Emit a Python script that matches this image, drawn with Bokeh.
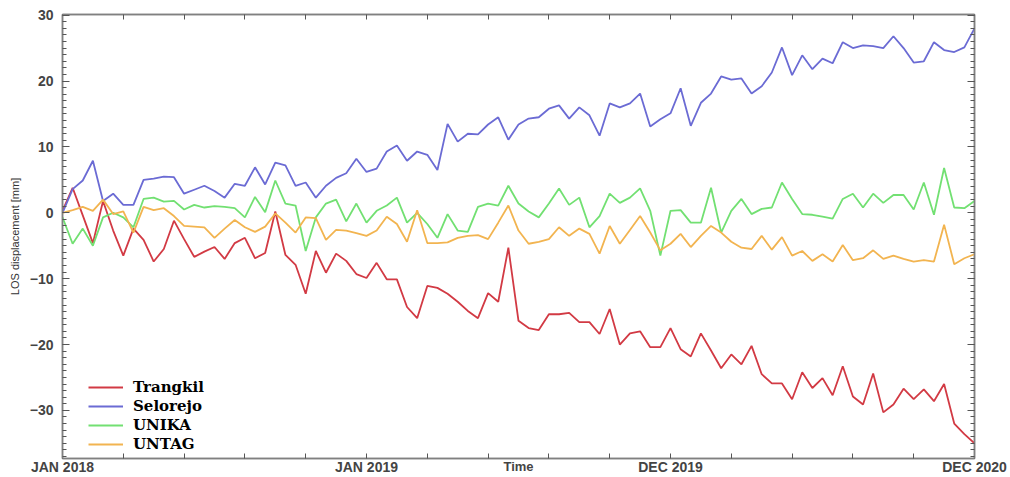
from bokeh.plotting import figure
from bokeh.models import (Range1d, FixedTicker, SingleIntervalTicker, LinearAxis,
                          Legend, LegendItem, CustomJSTickFormatter)
from bokeh.embed import file_html
from bokeh.resources import INLINE

# acquisition number (regular revisit), 91 acquisitions
acquisition = list(range(91))
tick_positions = list(range(0, 91, 6))
tick_labels = {0: "JAN 2018", 30: "JAN 2019", 60: "DEC 2019", 90: "DEC 2020"}

trangkil = [0.3, 3.8, -0.4, -4.6, 1.8, -2.7, -6.5, -2.4, -4.1, -7.4,
            -5.5, -1.2, -4.0, -6.7, -5.9, -5.2, -7.0, -4.6, -3.8, -6.9,
            -6.1, 0.2, -6.4, -7.9, -12.3, -5.8, -9.1, -6.2, -7.3, -9.3,
            -9.9, -7.6, -10.1, -10.1, -14.3, -16.0, -11.1, -11.4, -12.3, -13.5,
            -14.9, -16.0, -12.2, -13.5, -5.3, -16.4, -17.5, -17.8, -15.4, -15.4,
            -15.2, -16.6, -16.6, -18.4, -14.6, -20.0, -18.3, -18.0, -20.4, -20.4,
            -17.5, -20.7, -21.8, -18.3, -20.9, -23.6, -21.5, -23.0, -20.2, -24.5,
            -25.9, -25.9, -28.3, -24.2, -26.6, -25.1, -27.7, -23.3, -27.9, -29.1,
            -24.4, -30.3, -29.1, -26.7, -28.3, -26.8, -28.6, -26.0, -32.0, -33.6,
            -35.0]

selorejo = [0.0, 3.6, 4.9, 7.9, 1.8, 2.9, 1.2, 1.2, 5.0, 5.2,
            5.5, 5.4, 2.9, 3.5, 4.1, 3.3, 2.3, 4.4, 4.1, 6.9,
            4.3, 7.6, 7.2, 4.1, 4.6, 2.3, 4.1, 5.3, 6.0, 8.2,
            6.2, 6.7, 9.3, 10.2, 7.9, 9.3, 8.8, 6.5, 13.5, 10.8,
            12.0, 11.9, 13.4, 14.5, 11.1, 13.4, 14.3, 14.5, 15.8, 16.3,
            14.3, 16.0, 14.8, 11.7, 16.6, 16.0, 16.6, 18.1, 13.1, 14.2,
            15.1, 18.9, 13.2, 16.7, 18.1, 20.7, 20.2, 20.4, 18.1, 19.2,
            21.3, 25.1, 20.9, 23.9, 21.8, 23.4, 22.7, 25.9, 25.0, 25.4,
            25.3, 25.0, 26.8, 25.0, 22.8, 23.0, 25.9, 24.7, 24.4, 25.1,
            28.0]

unika = [-0.7, -4.7, -2.4, -5.0, -0.7, 0.0, -0.7, -2.2, 2.1, 2.3,
         1.7, 1.8, 0.5, 1.2, 0.8, 1.0, 0.9, 0.7, -0.7, 2.4,
         0.1, 4.9, 1.4, 1.1, -5.8, -0.7, 1.4, 2.0, -1.3, 1.4,
         -1.5, 0.3, 1.1, 2.3, -1.5, 0.0, -1.7, -3.8, -0.2, -2.7,
         -2.9, 0.9, 1.4, 1.1, 4.1, 1.4, 0.2, -0.7, 1.4, 3.7,
         1.2, 2.3, -2.2, -0.5, 2.9, 1.5, 2.3, 3.7, 0.3, -6.5,
         0.3, 0.4, -1.5, -1.5, 3.8, -3.0, 0.3, 2.1, -0.2, 0.6,
         0.8, 4.6, 2.1, -0.2, -0.3, -0.6, -0.9, 2.1, 2.9, 0.8,
         2.9, 1.5, 2.7, 2.7, 0.5, 4.6, -0.3, 6.8, 0.8, 0.7,
         1.8]

untag = [0.0, 0.4, 0.9, 0.3, 2.0, -0.2, 0.2, -3.0, 0.9, 0.4,
         0.7, -0.5, -2.0, -2.1, -2.2, -3.8, -2.4, -1.1, -2.2, -2.9,
         -2.1, -0.1, -1.5, -3.0, -0.7, -0.8, -4.1, -2.6, -2.7, -3.1,
         -3.5, -2.7, -0.6, -1.7, -4.4, 0.4, -4.6, -4.6, -4.5, -3.8,
         -3.5, -3.4, -4.0, -1.5, 1.1, -2.7, -4.7, -4.4, -4.0, -2.2,
         -3.5, -2.4, -3.2, -6.2, -2.0, -4.7, -2.6, -0.5, -3.0, -5.7,
         -4.7, -3.2, -5.2, -3.5, -2.0, -3.0, -4.4, -5.3, -5.5, -3.5,
         -5.6, -3.7, -6.5, -5.8, -7.3, -6.3, -7.4, -4.9, -7.2, -6.9,
         -5.7, -7.0, -6.5, -7.0, -7.4, -7.2, -7.4, -1.8, -7.8, -6.9,
         -6.3]

series_names = ["Trangkil", "Selorejo", "UNIKA", "UNTAG"]
series_values = [trangkil, selorejo, unika, untag]
series_colors = ["#d23a44", "#6b6bd4", "#72e072", "#f2b450"]

p = figure(width=1010, height=477, output_backend="svg", toolbar_location=None,
           x_range=Range1d(0, 90), y_range=Range1d(-37.3, 30.1),
           min_border_left=62, min_border_right=36, min_border_top=14,
           min_border_bottom=19, background_fill_color="white",
           border_fill_color="white")
p.xgrid.visible = False
p.ygrid.visible = False
p.outline_line_color = "#808080"
p.outline_line_width = 1.5

renderers = []
for vals, col in zip(series_values, series_colors):
    r = p.line(acquisition, vals, line_color=col, line_width=1.8)
    renderers.append(r)

empty = CustomJSTickFormatter(code="return ''")

# bottom axis
xa = p.xaxis[0]
xa.ticker = FixedTicker(ticks=tick_positions)
xa.major_label_overrides = {t: tick_labels.get(t, "") for t in tick_positions}
xa.major_tick_in = 5
xa.major_tick_out = 0
xa.minor_tick_line_color = None
xa.major_label_standoff = 0
xa.major_label_text_font = "Liberation Sans"
xa.major_label_text_font_style = "bold"
xa.major_label_text_font_size = "14px"
xa.major_label_text_color = "#444444"
xa.axis_label = "Time"
xa.axis_label_text_font = "Liberation Sans"
xa.axis_label_text_font_style = "bold"
xa.axis_label_text_font_size = "13px"
xa.axis_label_text_color = "#444444"
xa.axis_label_standoff = -19
xa.axis_line_color = "#808080"
xa.axis_line_width = 1.5
xa.major_tick_line_color = "#555555"

# left axis
ya = p.yaxis[0]
ya.ticker = SingleIntervalTicker(interval=10, num_minor_ticks=10)
ya.major_tick_in = 7
ya.major_tick_out = 0
ya.minor_tick_in = 4
ya.minor_tick_out = 0
ya.major_label_standoff = 9
ya.major_label_text_font = "Liberation Sans"
ya.major_label_text_font_style = "bold"
ya.major_label_text_font_size = "14px"
ya.major_label_text_color = "#444444"
ya.axis_label = "LOS displacement [mm]"
ya.axis_label_text_font = "Liberation Sans"
ya.axis_label_text_font_style = "normal"
ya.axis_label_text_font_size = "11px"
ya.axis_label_text_color = "#333333"
ya.axis_label_standoff = 6
ya.axis_line_color = "#808080"
ya.axis_line_width = 1.5
ya.major_tick_line_color = "#555555"
ya.minor_tick_line_color = "#555555"

# right mirrored axis
ra = LinearAxis(ticker=SingleIntervalTicker(interval=10, num_minor_ticks=10),
                formatter=empty, major_tick_in=7, major_tick_out=0,
                minor_tick_in=4, minor_tick_out=0, major_label_standoff=0,
                axis_line_color="#808080", axis_line_width=1.5,
                major_tick_line_color="#555555", minor_tick_line_color="#555555")
p.add_layout(ra, "right")

# top mirrored axis
ta = LinearAxis(ticker=FixedTicker(ticks=tick_positions), formatter=empty,
                major_tick_in=5, major_tick_out=0, minor_tick_line_color=None,
                major_label_standoff=0, axis_line_color="#808080",
                axis_line_width=1.5, major_tick_line_color="#555555")
p.add_layout(ta, "above")

legend = Legend(items=[LegendItem(label=n, renderers=[r]) for n, r in zip(series_names, renderers)],
                location=(26, 5), label_text_font="DejaVu Serif",
                label_text_font_style="bold", label_text_font_size="15px",
                label_text_color="black", glyph_width=35, glyph_height=18,
                label_height=18, label_standoff=10, spacing=1, padding=0,
                margin=0, border_line_color=None, background_fill_alpha=0)
p.add_layout(legend)

open("out.html", "w").write(file_html(p, INLINE))
